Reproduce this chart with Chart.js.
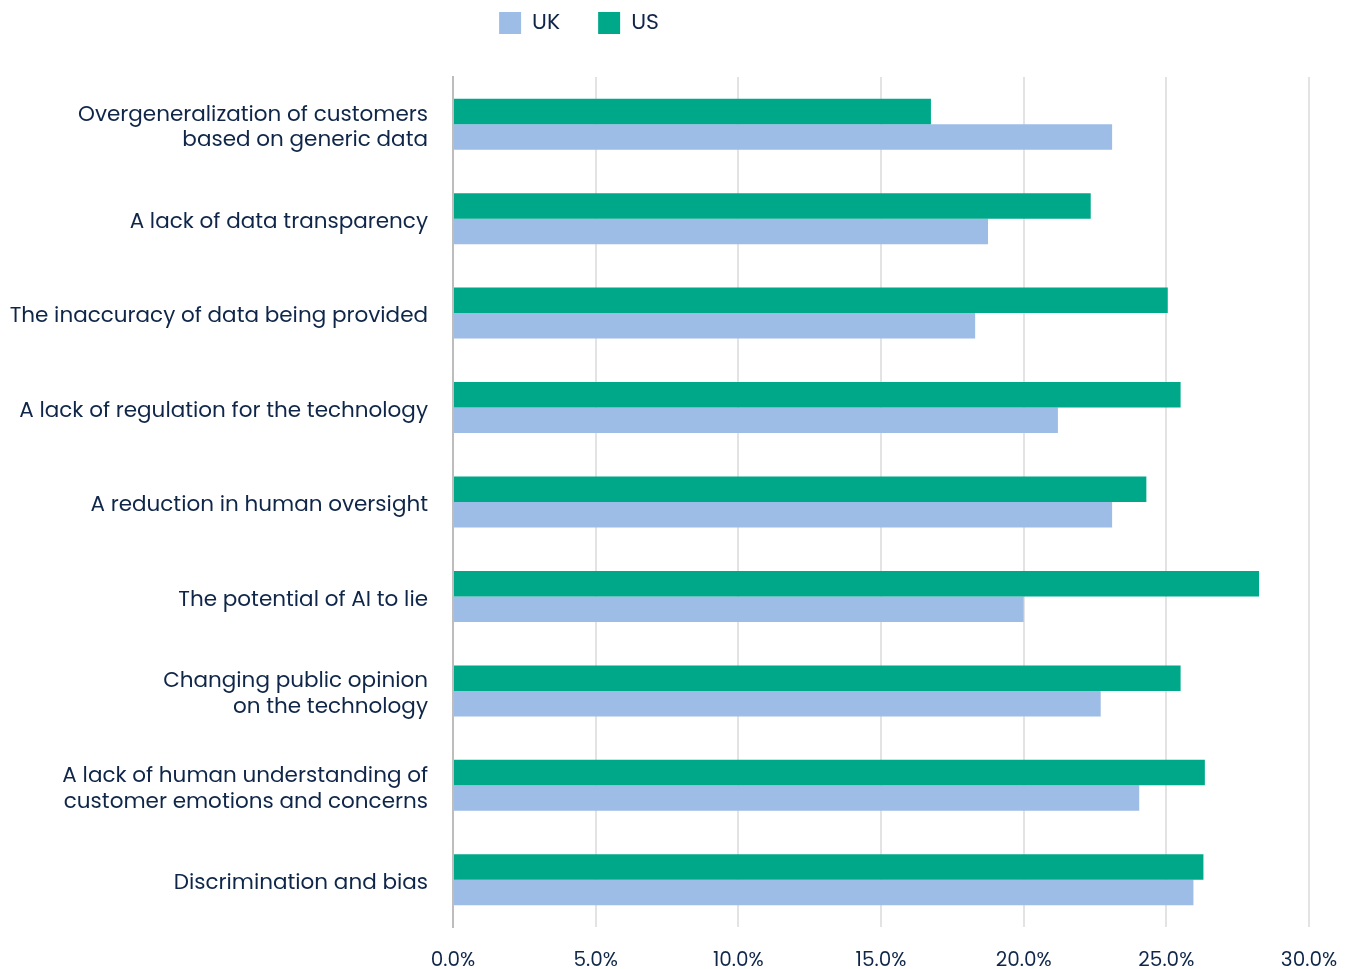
<!DOCTYPE html>
<html>
<head>
<meta charset="utf-8">
<script src="https://cdn.jsdelivr.net/npm/chart.js@4"></script>
<style>
  html, body { margin: 0; padding: 0; background: #fff; overflow: hidden; }
  canvas { display: block; }
</style>
</head>
<body>
<canvas id="concernsChart" width="1346" height="969"></canvas>
<script>
// categories, top to bottom
const categories = [
    ['Overgeneralization of customers', 'based on generic data'],
    'A lack of data transparency',
    'The inaccuracy of data being provided',
    'A lack of regulation for the technology',
    'A reduction in human oversight',
    'The potential of AI to lie',
    ['Changing public opinion', 'on the technology'],
    ['A lack of human understanding of', 'customer emotions and concerns'],
    'Discrimination and bias'
];
// share of respondents (%)
const ukValues = [23.1, 18.75, 18.3, 21.2, 23.1, 20.0, 22.7, 24.05, 25.95];
const usValues = [16.75, 22.35, 25.05, 25.5, 24.3, 28.25, 25.5, 26.35, 26.3];
const xTicks = [0, 5, 10, 15, 20, 25, 30];

const textColor = '#0f2649';
const fontFamily = "'Poppins', 'Open Sans', sans-serif";

// nudge the legend up and to the left after layout
const legendShift = {
    id: 'legendShift',
    afterLayout(chart) {
        const lg = chart.legend;
        if (!lg) return;
        lg.left -= 80; lg.right -= 80;
        lg.top -= 33; lg.bottom -= 33;
        lg.adjustHitBoxes();
    }
};

const ctx = document.getElementById('concernsChart').getContext('2d');
new Chart(ctx, {
    type: 'bar',
    data: {
        labels: categories,
        datasets: [
            { label: 'US', data: usValues, backgroundColor: '#00a88a' },
            { label: 'UK', data: ukValues, backgroundColor: '#9dbde6' }
        ]
    },
    options: {
        indexAxis: 'y',
        responsive: false,
        animation: false,
        categoryPercentage: 0.54,
        barPercentage: 1.0,
        layout: { padding: { left: 9, right: 37, top: 7, bottom: 0 } },
        scales: {
            x: {
                min: 0,
                max: 30,
                afterBuildTicks: function(axis) {
                    axis.ticks = xTicks.map(v => ({ value: v }));
                },
                afterFit: function(axis) {
                    axis.paddingLeft = 0;
                    axis.paddingRight = 0;
                    axis.height = 42;
                },
                grid: { color: '#e3e3e3', lineWidth: 2, drawTicks: false },
                border: { display: false },
                ticks: {
                    color: textColor,
                    padding: 22,
                    font: { family: fontFamily, size: 20 },
                    callback: v => v.toFixed(1) + '%'
                }
            },
            y: {
                afterFit: function(axis) {
                    axis.paddingTop = 0;
                    axis.paddingBottom = 0;
                    axis.width = 444;
                },
                grid: { display: false },
                border: { display: true, color: '#bdbdbd', width: 2 },
                ticks: {
                    color: textColor,
                    padding: 17,
                    labelOffset: 4,
                    font: { family: fontFamily, size: 21.5 }
                }
            }
        },
        plugins: {
            legend: {
                position: 'top',
                reverse: true,
                labels: {
                    color: textColor,
                    boxWidth: 22,
                    boxHeight: 22,
                    padding: 38,
                    font: { family: fontFamily, size: 22 }
                }
            },
            tooltip: { enabled: false }
        }
    },
    plugins: [legendShift]
});
</script>
</body>
</html>
